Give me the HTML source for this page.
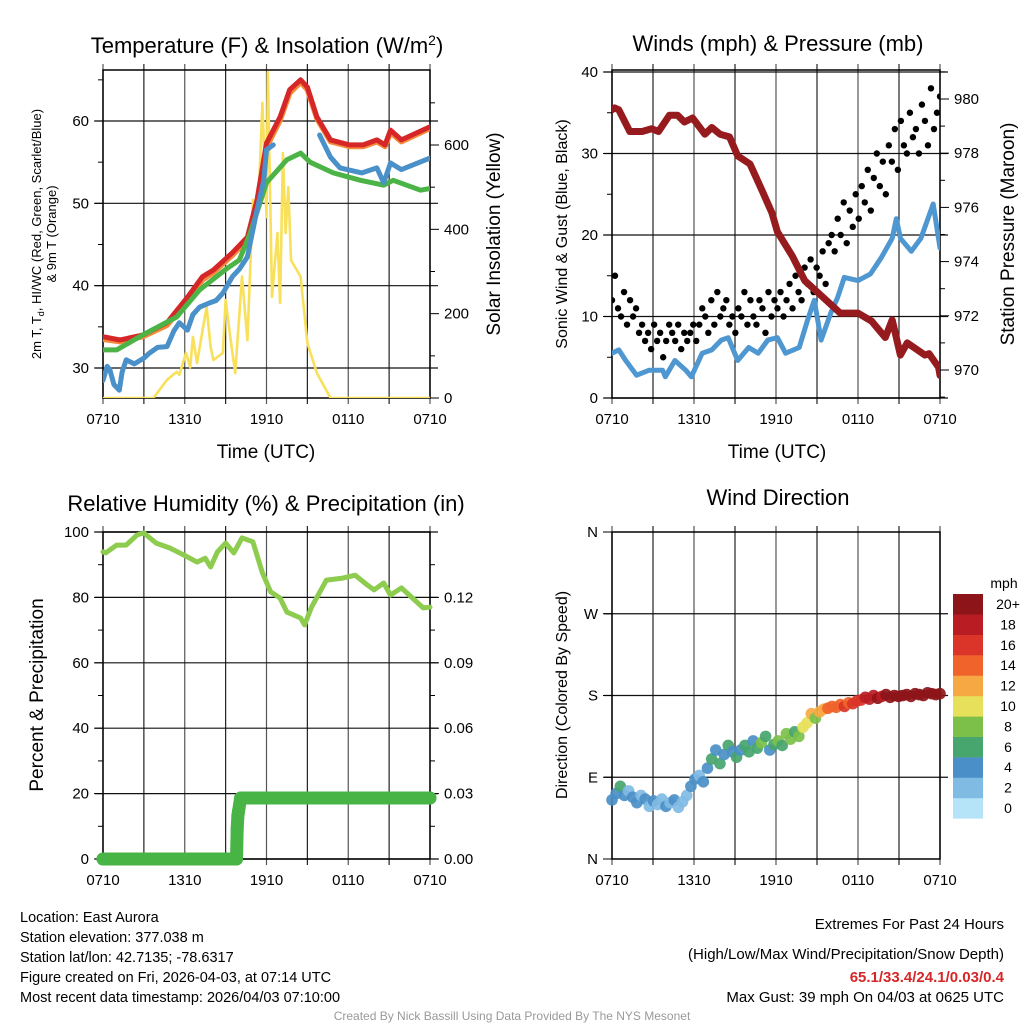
<!DOCTYPE html>
<html><head><meta charset="utf-8"><title>Mesonet Station Plot</title>
<style>
html,body{margin:0;padding:0;background:#fff;}
svg{display:block;font-family:"Liberation Sans",Arial,sans-serif;}
</style></head>
<body>
<svg id="fig" width="1024" height="1024" viewBox="0 0 1024 1024" xmlns="http://www.w3.org/2000/svg">
<rect width="1024" height="1024" fill="#fff"/>
<defs>
<clipPath id="c1"><rect x="103" y="70" width="327" height="328"/></clipPath>
<clipPath id="c2"><rect x="612" y="70" width="328" height="328"/></clipPath>
<clipPath id="c3"><rect x="96" y="525" width="341" height="341"/></clipPath>
<clipPath id="c4"><rect x="606" y="526" width="340" height="339"/></clipPath>
</defs>
<text x="267" y="53" font-size="22" text-anchor="middle">Temperature (F) &amp; Insolation (W/m<tspan dy="-8" font-size="14">2</tspan><tspan dy="8">)</tspan></text>
<text x="778" y="51" font-size="22" text-anchor="middle">Winds (mph) &amp; Pressure (mb)</text>
<text x="266" y="511" font-size="22" text-anchor="middle">Relative Humidity (%) &amp; Precipitation (in)</text>
<text x="778" y="505" font-size="22" text-anchor="middle">Wind Direction</text>
<text x="266" y="458" font-size="19" text-anchor="middle">Time (UTC)</text>
<text x="777" y="458" font-size="19" text-anchor="middle">Time (UTC)</text>
<text transform="translate(41,234) rotate(-90)" font-size="13" text-anchor="middle">2m T, T<tspan dy="3" font-size="9">d</tspan><tspan dy="-3">, HI/WC (Red, Green, Scarlet/Blue)</tspan></text>
<text transform="translate(56,234) rotate(-90)" font-size="13" text-anchor="middle">&amp; 9m T (Orange)</text>
<text transform="translate(500,234) rotate(-90)" font-size="19" text-anchor="middle">Solar Insolation (Yellow)</text>
<text transform="translate(567,234) rotate(-90)" font-size="16" text-anchor="middle">Sonic Wind &amp; Gust (Blue, Black)</text>
<text transform="translate(1014,234) rotate(-90)" font-size="19" text-anchor="middle">Station Pressure (Maroon)</text>
<text transform="translate(43,695) rotate(-90)" font-size="19" text-anchor="middle">Percent &amp; Precipitation</text>
<text transform="translate(567,695) rotate(-90)" font-size="16" text-anchor="middle">Direction (Colored By Speed)</text>
<g font-size="14.5">
<text x="20" y="922">Location: East Aurora</text>
<text x="20" y="942">Station elevation: 377.038 m</text>
<text x="20" y="962">Station lat/lon: 42.7135; -78.6317</text>
<text x="20" y="982">Figure created on Fri, 2026-04-03, at 07:14 UTC</text>
<text x="20" y="1002">Most recent data timestamp: 2026/04/03 07:10:00</text>
</g>
<g font-size="15" text-anchor="end">
<text x="1004" y="929">Extremes For Past 24 Hours</text>
<text x="1004" y="959">(High/Low/Max Wind/Precipitation/Snow Depth)</text>
<text x="1004" y="982" fill="#d62728" font-weight="bold">65.1/33.4/24.1/0.03/0.4</text>
<text x="1004" y="1002">Max Gust: 39 mph On 04/03 at 0625 UTC</text>
</g>
<text x="512" y="1020" font-size="12" fill="#999" text-anchor="middle">Created By Nick Bassill Using Data Provided By The NYS Mesonet</text>
</svg>
<script>
const timeTicks = ["0710","1310","1910","0110","0710"];
const redH = [0,1.25,2.9,4.7,6.2,7.3,8.1,9.5,10.6,11.3,12,13,13.7,14.5,15,15.7,16.7,18.1,19.1,20.1,20.7,21.1,21.9,24];
const redV = [33.8,33.4,34.0,35.5,38.6,41.1,41.9,44,45.9,50.4,57.3,60.5,63.8,65,64.1,60.5,57.7,57.1,57.1,57.7,57.1,58.9,57.7,59.3];
const orangeV = [33.5,33.2,33.8,35.2,38.2,40.7,41.6,43.7,45.6,50.0,56.8,60.1,63.4,64.7,63.8,60.3,57.5,56.9,56.9,57.5,56.9,58.6,57.5,59.1];
const greenH = [0,1,2.9,5.4,7.1,9.1,10,10.8,12,12.1,13.5,14.5,15.2,16.9,18.9,20.6,21.3,23.3,24];
const greenV = [32.2,32.2,34,36.2,39.5,42.1,43.1,46.4,52.5,52.7,55.3,56.1,55.0,53.7,52.8,52.2,52.8,51.6,51.8];
const blueH = [0,0.3,0.5,0.8,1.2,1.4,1.7,2.3,3.0,3.4,4.0,4.7,5.2,5.6,6.2,6.6,7.1,7.8,8.3,8.8,9.5,10.0,10.6,11.3,11.8,12,12.5,14,15.9,16.7,17.4,19,20.1,20.6,21.1,21.9,24];
const blueV = [28.5,30.2,29.8,28.0,27.3,29.5,31,30.5,31.2,31.8,32.5,32.6,34.5,35.5,34.6,36.5,37.4,37.9,38.2,39.1,41.1,42.0,43.5,49.2,52.8,56.5,57.1,null,58.3,55.6,54.3,53.7,54.3,52.5,54.9,54.1,55.5];
const solarH = [0,3.7,4.7,5.4,5.6,6.1,6.4,6.6,6.9,7.6,7.9,8.1,8.8,9.0,9.4,9.7,10.2,10.6,11,11.4,11.7,12,12.1,12.4,12.8,13,13.2,13.4,13.6,13.8,14.5,15,15.7,16.7,24];
const solarV = [0,0,43,62,55,107,73,145,83,216,121,90,107,232,130,59,288,137,470,453,700,429,773,240,391,225,581,391,500,327,288,130,59,0,0];
const tempTicks = [30,40,50,60];
const solarTicks = [0,200,400,600];
const presH = [0,0.2,0.5,1.3,2.2,2.9,3.4,4.2,4.8,5.3,5.9,6.8,7.3,7.9,8.6,9.2,10.1,11,11.7,12.1,13.2,14.1,15.4,16.7,18,19,20,20.5,21.1,21.6,22.9,23.2,23.9,24];
const presV = [979.6,979.67,979.6,978.8,978.8,978.9,978.8,979.4,979.4,979.15,979.3,978.7,978.95,978.7,978.6,977.9,977.6,976.6,975.8,975.1,974.2,973.3,972.7,972.1,972.1,971.8,971.2,971.85,970.55,971,970.55,970.6,970.1,969.8];
const windH = [0,0.5,1,1.8,2.7,3.7,3.9,4.6,5.4,5.8,6.6,7.3,8.0,8.5,9.2,10,10.7,11.4,12.1,12.7,13.7,14.3,14.8,15.3,16,16.5,17,18,18.9,19.7,20.5,20.8,21.1,21.9,22.6,23.5,24];
const windV = [5.5,5.9,4.6,2.8,3.4,3.4,2.6,4.6,3.4,2.6,5.5,5.9,7.1,7.4,4.6,6.2,5.5,7.1,7.4,5.5,6.2,9.5,12,7.1,10.4,12.3,14.8,14.4,15.2,17.2,19.6,22,19.6,18,19.6,23.8,18.4];
const gustV = [12,15,11,10,13,9,12,10,11,8,9,
 7,8,6,9,7,8,5,7,9,
 8,7,9,6,8,7,8,9,7,
 9,11,10,8,12,9,13,10,11,
 12,9,10,8,11,10,13,9,12,
 10,9,12,11,8,13,10,12,11,
 13,10,12,14,11,15,13,12,16,
 14,17,13,16,15,18,14,19,20,
 18,22,20,24,19,23,21,25,22,
 26,24,28,23,27,30,26,29,25,
 31,29,33,28,34,31,30,35,32,
 33,30,36,34,31,38,33,35,37];
const windTicks = [0,10,20,30,40];
const presTicks = [970,972,974,976,978,980];
const rhH = [0,0.2,1,1.7,2.5,3,3.9,4.9,6.2,6.9,7.5,7.9,8.4,9,9.6,10.2,11,11.7,12.3,13,13.5,14.5,14.8,15.3,16.4,17.6,18.5,19.4,19.9,20.6,21.1,21.9,23.5,24];
const rhV = [93.9,93.6,96,96,99.1,99.7,96.6,95.1,92.4,90.8,92,89.3,93.9,96.6,93.6,98.2,97,87.5,81.7,79.8,75.5,73.7,71.6,77,85.3,85.9,86.8,83.8,82.3,84.4,80.7,82.9,76.8,77];
const precipH = [0,9.8,9.85,9.9,9.95,10.1,24];
const precipV = [0,0,0.014,0.02,0.022,0.028,0.028];
const rhTicks = [0,20,40,60,80,100];
const precipTicks = ["0.00","0.03","0.06","0.09","0.12"];
const dirV = [65,72,80,70,75,68,62,70,66,58,64,
 60,66,58,62,65,57,63,70,80,
 88,92,85,100,110,120,105,115,125,118,
 112,120,125,118,130,122,128,135,120,126,
 130,125,138,132,140,135,145,150,160,155,
 162,165,166,168,167,170,168,172,171,174,
 175,178,176,180,177,179,181,178,180,179,
 180,181,179,182,181,180,183,182,181,182];
const spdV = [5,4,6,4,3,5,4,2,4,3,4,
 3,2,4,3,4,2,3,3,4,
 4,2,5,4,6,5,7,4,6,5,
 6,4,7,6,5,7,8,6,5,7,
 8,7,9,8,7,9,10,11,12,9,
 12,13,14,14,15,14,16,15,16,17,
 17,18,19,18,20,19,21,20,22,21,
 21,22,23,22,21,23,24,22,23,22];
const dirTicks = ["N","E","S","W","N"];
const speedLegend = ["0","2","4","6","8","10","12","14","16","18","20+"];
const speedColors = ["#b5e3f8","#80bbe4","#4a8fc7","#47a56e","#7cc04a","#e6e05a","#f6a943","#f0632a","#da3528","#b91c23","#8d1519"];

const NS = "http://www.w3.org/2000/svg";
const svg = document.getElementById("fig");
function mk(tag, attrs, parent) {
  const el = document.createElementNS(NS, tag);
  for (const k in attrs) el.setAttribute(k, attrs[k]);
  (parent || svg).appendChild(el);
  return el;
}
const panels = {
  p1: {x0:103, x1:430, y0:70, y1:398},
  p2: {x0:612, x1:940, y0:70, y1:398},
  p3: {x0:103, x1:430, y0:532, y1:859},
  p4: {x0:612, x1:940, y0:532, y1:859}
};
function xs(p) { return h => p.x0 + h * (p.x1 - p.x0) / 24; }
function lin(d0, d1, r0, r1) { return v => r0 + (v - d0) * (r1 - r0) / (d1 - d0); }
const P1 = panels.p1, P2 = panels.p2, P3 = panels.p3, P4 = panels.p4;
const x1s = xs(P1), x2s = xs(P2), x3s = xs(P3), x4s = xs(P4);
const tY = lin(30, 60, 368, 121);
const sY = lin(0, 600, 398, 145);
const wY = lin(0, 40, 398, 72);
const pY = lin(970, 980, 370, 99);
const rY = lin(0, 100, 859, 532);
const qY = lin(0, 0.15, 859, 532);
const dY = lin(0, 360, 859, 532);

function frame(p, name, hGrid) {
  const g = mk("g", {});
  
  
  for (let i = 0; i <= 8; i++) {
    const x = p.x0 + i * (p.x1 - p.x0) / 8;
    const l = mk("line", {x1:x, x2:x, y1:p.y0 - 6, y2:p.y1 + 6, stroke:(i%2? "#222":"#555"), "stroke-width":1.2}, g);
    
    
  }
  hGrid.forEach(y => {
    const l = mk("line", {x1:p.x0 - 8, x2:p.x1 + 8, y1:y, y2:y, stroke:"#111", "stroke-width":1.2}, g);
    
    
  });
  const b = mk("rect", {x:p.x0, y:p.y0, width:p.x1 - p.x0, height:p.y1 - p.y0, fill:"none", stroke:"#000", "stroke-width":1.5}, g);
  
  
  timeTicks.forEach((lab, i) => {
    const x = p.x0 + i * (p.x1 - p.x0) / 4;
    const t = mk("text", {x:x, y:p.y1 + 26, "font-size":15, "text-anchor":"middle"}, g);
    t.textContent = lab;
    
    
  });
}
function yAxis(side, p, values, scale, labels, minorValues, name) {
  const g = mk("g", {});
  
  
  const x = side === "L" ? p.x0 : p.x1;
  const dir = side === "L" ? -1 : 1;
  minorValues.forEach(v => {
    const y = scale(v);
    const t = mk("line", {x1:x, x2:x + dir * 5, y1:y, y2:y, stroke:"#000", "stroke-width":1}, g);
    
    
  });
  values.forEach((v, i) => {
    const y = scale(v);
    const t = mk("line", {x1:x, x2:x + dir * 9, y1:y, y2:y, stroke:"#000", "stroke-width":1}, g);
    
    
    const tx = mk("text", {x:x + dir * 14, y:y + 5, "font-size":15, "text-anchor": side === "L" ? "end" : "start"}, g);
    tx.textContent = labels[i];
    
    
  });
}
function pathD(H, V, xf, yf) {
  let d = "", pen = false;
  for (let i = 0; i < H.length; i++) {
    if (V[i] === null) { pen = false; continue; }
    d += (pen ? "L" : "M") + xf(H[i]).toFixed(1) + "," + yf(V[i]).toFixed(1);
    pen = true;
  }
  return d;
}
function series(H, V, xf, yf, color, w, name, clip) {
  const el = mk("path", {d:pathD(H, V, xf, yf), fill:"none", stroke:color, "stroke-width":w, "stroke-linejoin":"round", "stroke-linecap":"round", "clip-path":"url(#" + clip + ")"});
  
  
  return el;
}
function range(a, b, s) { const r = []; for (let v = a; v <= b + 1e-9; v += s) r.push(+v.toFixed(4)); return r; }

frame(P1, "temperature", tempTicks.map(tY));
yAxis("L", P1, tempTicks, tY, tempTicks.map(String), range(35, 65, 10), "temperature-y-axis");
yAxis("R", P1, solarTicks, sY, solarTicks.map(String), range(100, 700, 200), "solar-y-axis");
series(solarH, solarV, x1s, sY, "#f9e05a", 2.6, "solar-insolation-line", "c1");
series(redH, orangeV, x1s, tY, "#f58b3a", 5.5, "9m-temperature-line", "c1");
series(redH, redV, x1s, tY, "#d62728", 5, "2m-temperature-line", "c1");
series(greenH, greenV, x1s, tY, "#4cb447", 5, "dewpoint-line", "c1");
series(blueH, blueV, x1s, tY, "#4a90c9", 5, "wind-chill-line", "c1");

frame(P2, "winds", windTicks.map(wY));
yAxis("L", P2, windTicks, wY, windTicks.map(String), range(5, 35, 10), "wind-y-axis");
yAxis("R", P2, presTicks, pY, presTicks.map(String), range(969, 981, 1).filter(v => v % 2), "pressure-y-axis");
series(windH, windV, x2s, wY, "#4f97d1", 5, "sonic-wind-line", "c2");
const gg = mk("g", {"clip-path":"url(#c2)"});


gustV.forEach((v, i) => {
  const h = i * 24 / (gustV.length - 1);
  const c = mk("circle", {cx:x2s(h), cy:wY(v), r:3.2, fill:"#000"}, gg);
  
  
});
series(presH, presV, x2s, pY, "#961b1e", 7, "pressure-line", "c2");

frame(P3, "humidity", rhTicks.map(rY));
yAxis("L", P3, rhTicks, rY, rhTicks.map(String), range(10, 90, 20), "humidity-y-axis");
yAxis("R", P3, precipTicks.map(Number), qY, precipTicks, range(0.015, 0.135, 0.03), "precip-y-axis");
series(rhH, rhV, x3s, rY, "#8dcc4e", 5, "relative-humidity-line", "c3");
series(precipH, precipV, x3s, qY, "#48b446", 13, "precipitation-line", "c3");
const pg = mk("g", {"clip-path":"url(#c3)"});


precipH.forEach((h, i) => {
  const c = mk("circle", {cx:x3s(h), cy:qY(precipV[i]), r:6.5, fill:"#48b446"}, pg);
  
  
});

frame(P4, "direction", [90, 180, 270].map(dY));
yAxis("L", P4, [0, 90, 180, 270, 360], dY, dirTicks, [], "direction-y-axis");
const dg = mk("g", {"clip-path":"url(#c4)"});


function speedColor(s) { return speedColors[Math.min(10, Math.floor(s / 2))]; }
dirV.forEach((v, i) => {
  const h = i * 24 / (dirV.length - 1);
  const c = mk("circle", {cx:x4s(h), cy:dY(v), r:5.8, fill:speedColor(spdV[i]), opacity:0.92}, dg);
  
  
});
const lg = mk("g", {});


const lt = mk("text", {x:1004, y:588, "font-size":14, "text-anchor":"middle"}, lg);
lt.textContent = "mph";


speedLegend.forEach((lab, i) => {
  const top = 594 + (10 - i) * 20.4;
  const r = mk("rect", {x:953, y:top, width:30, height:20.6, fill:speedColors[i]}, lg);
  
  
  const t = mk("text", {x:1008, y:top + 15, "font-size":14, "text-anchor":"middle"}, lg);
  t.textContent = lab;
  
  
});
</script>
</body></html>
